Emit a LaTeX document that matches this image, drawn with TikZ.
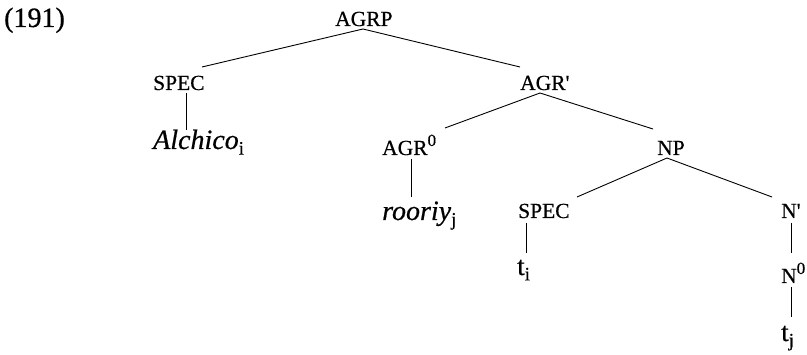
\documentclass[tikz,border=0pt]{standalone}
\usepackage{fontspec}
\setmainfont{Liberation Serif}[FakeBold=0.6]
\usetikzlibrary{calc}
\newcommand{\mysupr}[1]{\raisebox{0.42em}{\fontsize{17}{17}\selectfont #1}}
\newcommand{\mysubr}[1]{\raisebox{-0.2em}{\upshape\fontsize{19}{19}\selectfont #1}}
\begin{document}
\begin{tikzpicture}[x=1pt,y=-1pt,
  lab/.style={anchor=base west,inner sep=0pt,font=\fontsize{21.5}{24}\selectfont},
  word/.style={anchor=base west,inner sep=0pt,font=\fontsize{28}{30}\selectfont\itshape},
  trace/.style={anchor=base west,inner sep=0pt,font=\fontsize{27}{28}\selectfont},
  edge/.style={line width=0.9pt}]
\useasboundingbox (0,0) rectangle (807,355);
\node[anchor=base west,inner sep=0pt,font=\fontsize{28}{30}\selectfont] (num) at (4,27) {(191)};
\node[lab] (agrp) at (335,26) {AGRP};
\node[lab] (spec1) at (153,90) {SPEC};
\node[word] (alch) at (153,149) {Alchico\mysubr{i}};
\node[lab] (agrb) at (520,90) {AGR\textquotesingle};
\node[lab] (agr0) at (382,155) {AGR\mysupr{0}};
\node[word] (roor) at (382,220) {rooriy\mysubr{j}};
\node[lab] (np) at (657,155) {NP};
\node[lab] (spec2) at (518,218) {SPEC};
\node[trace] (ti) at (517,275) {t\mysubr{i}};
\node[lab] (nb) at (781,218) {N\textquotesingle};
\node[lab] (n0) at (781,283) {N\mysupr{0}};
\node[trace] (tj) at (781,341) {t\mysubr{j}};
\draw[edge] ($(spec1.base west)+(49,-23)$) -- ($(agrp.base west)+(28,3)$) -- ($(agrb.base west)+(0,-23)$);
\draw[edge] ($(spec1.base west)+(33,3)$) -- ($(alch.base west)+(33,-19)$);
\draw[edge] ($(agr0.base west)+(63,-27)$) -- ($(agrb.base west)+(20,3)$) -- ($(np.base west)+(-4,-26)$);
\draw[edge] ($(agr0.base west)+(29,4)$) -- ($(roor.base west)+(29,-23)$);
\draw[edge] ($(spec2.base west)+(59,-21)$) -- ($(np.base west)+(10,3)$) -- ($(nb.base west)+(-9,-21)$);
\draw[edge] ($(spec2.base west)+(8,5)$) -- ($(ti.base west)+(9,-22)$);
\draw[edge] ($(nb.base west)+(10,5)$) -- ($(n0.base west)+(10,-30)$);
\draw[edge] ($(n0.base west)+(10,4)$) -- ($(tj.base west)+(10,-24)$);
\end{tikzpicture}
\end{document}
